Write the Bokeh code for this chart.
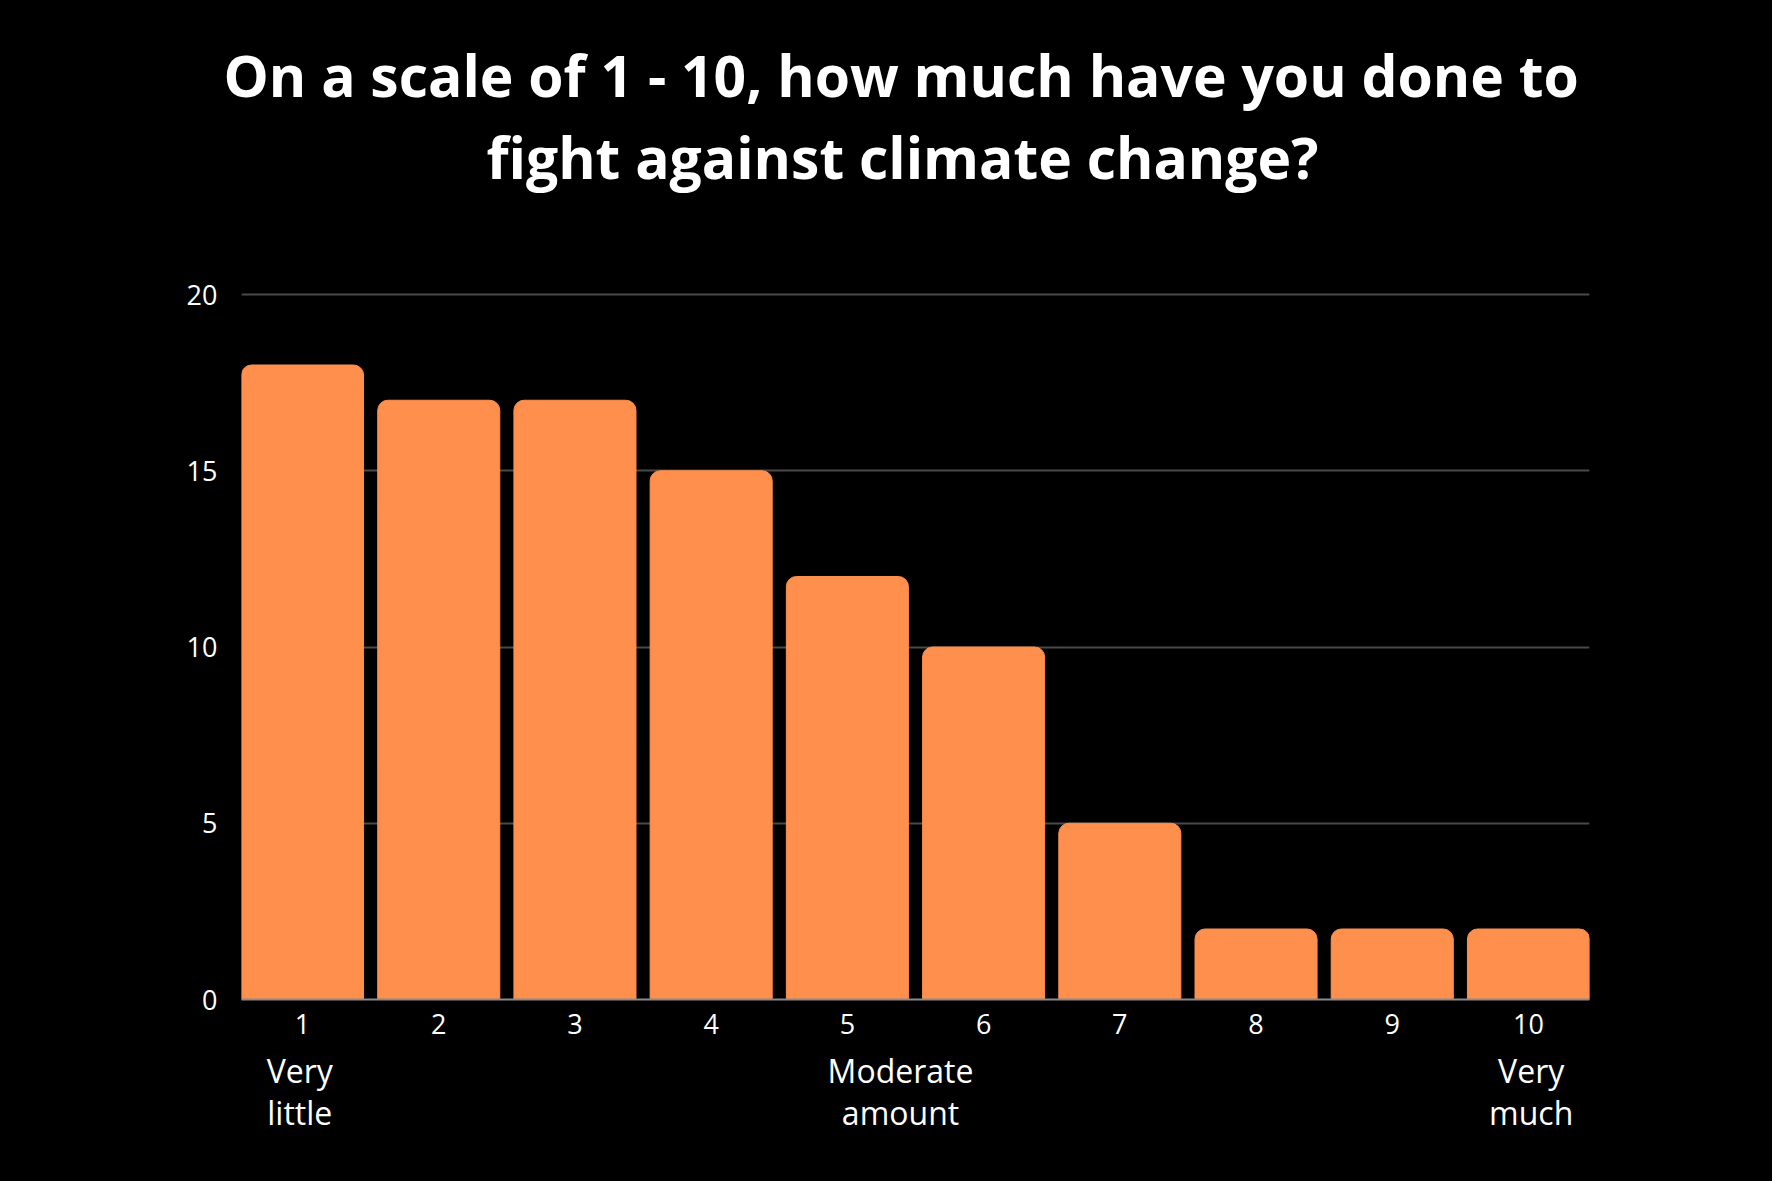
from bokeh.plotting import figure
from bokeh.models import Range1d, FixedTicker, LinearAxis, Title
from bokeh.embed import file_html
from bokeh.resources import INLINE

# ---- data ----
scores = [1, 2, 3, 4, 5, 6, 7, 8, 9, 10]
counts = [18, 17, 17, 15, 12, 10, 5, 2, 2, 2]
y_ticks = [0, 5, 10, 15, 20]
title_lines = ["On a scale of 1 - 10, how much have you done to",
               "fight against climate change?"]
note_pos = [0.98, 5.39, 10.02]
note_text = ["Very\nlittle", "Moderate\namount", "Very\nmuch"]

BAR = "#FF8F4C"
FONT = "Open Sans"
BAR_W = 0.896

p = figure(width=1772, height=1181, output_backend="svg", toolbar_location=None,
           x_range=Range1d(1 - BAR_W / 2, 10 + BAR_W / 2), y_range=Range1d(0, 20.057),
           min_border_left=241, min_border_right=183,
           min_border_top=292, min_border_bottom=182)
p.styles = {"background-color": "black"}
p.background_fill_color = "black"
p.border_fill_color = "black"
p.outline_line_color = None

p.vbar(x=scores, top=counts, width=BAR_W, color=BAR, border_radius=(10, 10, 0, 0))

# grid
p.xgrid.grid_line_color = None
p.ygrid.ticker = FixedTicker(ticks=y_ticks)
p.ygrid.grid_line_color = "#4a4a4a"
p.ygrid.grid_line_width = 2

# x axis
p.xaxis.ticker = FixedTicker(ticks=scores)
p.xaxis.axis_line_color = "#8a8a8a"
p.xaxis.axis_line_width = 2
p.xaxis.major_tick_line_color = None
p.xaxis.minor_tick_line_color = None
p.xaxis.major_tick_out = 0
p.xaxis.major_label_standoff = 14
p.xaxis.major_label_text_color = "white"
p.xaxis.major_label_text_font = FONT
p.xaxis.major_label_text_font_size = "27px"

# second axis with scale notes
note_axis = LinearAxis(ticker=FixedTicker(ticks=note_pos),
                       major_label_overrides={k: t for k, t in zip(note_pos, note_text)})
note_axis.axis_line_color = None
note_axis.major_tick_line_color = None
note_axis.minor_tick_line_color = None
note_axis.major_tick_out = 0
note_axis.major_tick_in = 0
note_axis.major_label_standoff = 12
note_axis.major_label_text_color = "white"
note_axis.major_label_text_font = FONT
note_axis.major_label_text_font_size = "32px"
note_axis.major_label_text_line_height = 0.99
p.add_layout(note_axis, "below")

# y axis
p.yaxis.ticker = FixedTicker(ticks=y_ticks)
p.yaxis.axis_line_color = None
p.yaxis.major_tick_line_color = None
p.yaxis.minor_tick_line_color = None
p.yaxis.major_tick_out = 0
p.yaxis.major_label_standoff = 24
p.yaxis.major_label_text_color = "white"
p.yaxis.major_label_text_font = FONT
p.yaxis.major_label_text_font_size = "27px"

# spacer between the frame and the title (first added = nearest the frame)
p.add_layout(Title(text=" ", text_font_size="1px", standoff=94), "above")
# title lines: second line first (nearer the frame)
for txt, off, so in zip(reversed(title_lines), [245, -18], [0, 4]):
    p.add_layout(Title(text=txt, align="left", text_color="white", text_font=FONT,
                       text_font_style="bold", text_font_size="57px",
                       standoff=so, offset=off), "above")

open("out.html", "w").write(file_html(p, INLINE))
